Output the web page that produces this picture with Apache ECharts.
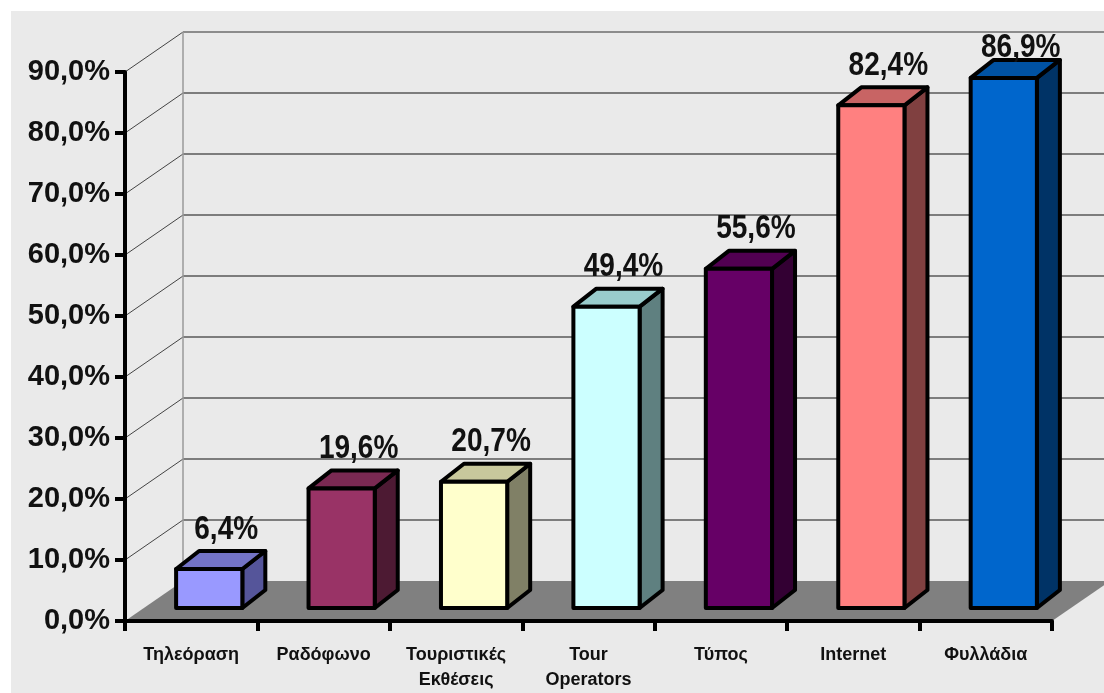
<!DOCTYPE html>
<html>
<head>
<meta charset="utf-8">
<script src="https://cdn.jsdelivr.net/npm/echarts@6/dist/echarts.min.js"></script>
<style>
  html, body { margin: 0; padding: 0; background: #ffffff; }
  #chart { width: 1104px; height: 693px; }
</style>
</head>
<body>
<div id="chart"></div>
<script>
// Media categories (x axis)
const categories = ['Τηλεόραση', 'Ραδόφωνο', 'Τουριστικές\nΕκθέσεις', 'Tour\nOperators', 'Τύπος', 'Internet', 'Φυλλάδια'];
// Share of respondents per medium, in percent
const shares = [6.4, 19.6, 20.7, 49.4, 55.6, 82.4, 86.9];
// Value axis ticks, in percent
const yTicks = [0, 10, 20, 30, 40, 50, 60, 70, 80, 90];

// Bar face colours: front, right side (shaded), top (half shaded)
const frontColors = ['#9999ff', '#993366', '#ffffcc', '#ccffff', '#660066', '#ff8080', '#0066cc'];
const sideColors  = ['#55559a', '#4d1a33', '#808066', '#5f8080', '#330033', '#804040', '#003366'];
const topColors   = ['#7373c6', '#7a2952', '#c8c89c', '#99cccc', '#520052', '#c86464', '#0052a3'];

const SANS = "'Liberation Sans', Arial, sans-serif";

// Depth of the 3-D box (floor / back wall), in pixels
const WALL_DX = 58, WALL_DY = -40;
// Where the bars stand inside that depth, and how deep each bar is
const BAR_OX = 18, BAR_OY = -13;
const BAR_DX = 23, BAR_DY = -18;

const fmtPct = v => v.toFixed(1).replace('.', ',') + '%';

const chart = echarts.init(document.getElementById('chart'), null, { renderer: 'canvas' });

function plotEdges(api) {
  const band = api.size([1, 0])[0];
  const first = api.coord([0, 0]);
  const last = api.coord([categories.length - 1, 0]);
  return { left: first[0] - band / 2, right: last[0] + band / 2, band: band };
}

const option = {
  backgroundColor: '#ffffff',
  animation: false,
  graphic: [{
    type: 'rect', left: 11, top: 11, z: -100,
    shape: { width: 1093, height: 682 },
    style: { fill: '#eaeaea' }
  }],
  grid: { left: 125, right: 52, top: 72, bottom: 65, containLabel: false },
  xAxis: {
    type: 'category',
    data: categories,
    boundaryGap: true,
    axisLine: { show: true, lineStyle: { color: '#000', width: 4 } },
    axisTick: { show: true, length: 10, lineStyle: { color: '#000', width: 4 } },
    axisLabel: {
      color: '#111', fontFamily: SANS, fontWeight: 'bold', fontSize: 18,
      margin: 22, lineHeight: 25, interval: 0
    },
    splitLine: { show: false },
    z: 10
  },
  yAxis: {
    type: 'value',
    min: 0, max: 90, interval: 10,
    axisLine: { show: true, lineStyle: { color: '#000', width: 4 } },
    axisTick: { show: true, length: 10, lineStyle: { color: '#000', width: 4 } },
    axisLabel: {
      color: '#111', fontFamily: SANS, fontWeight: 'bold', fontSize: 29,
      margin: 15, formatter: v => fmtPct(v)
    },
    splitLine: { show: false },
    z: 10
  },
  series: [
    {
      // Floor of the 3-D box
      type: 'custom',
      silent: true,
      clip: false,
      z: 1,
      data: [0],
      renderItem: function (params, api) {
        const e = plotEdges(api);
        const y0 = api.coord([0, 0])[1];
        return {
          type: 'polygon',
          shape: { points: [[e.left, y0], [e.left + WALL_DX, y0 + WALL_DY], [e.right + WALL_DX, y0 + WALL_DY], [e.right, y0]] },
          style: { fill: '#808080', stroke: null }
        };
      }
    },
    {
      // Gridlines: diagonal on the left side wall, horizontal on the back wall
      type: 'custom',
      silent: true,
      clip: false,
      z: 2,
      data: yTicks,
      encode: { y: 0 },
      renderItem: function (params, api) {
        const v = api.value(0);
        const e = plotEdges(api);
        const y = api.coord([0, v])[1];
        const bx = e.left + WALL_DX, by = y + WALL_DY;
        const isTop = v === yTicks[yTicks.length - 1];
        const children = [];
        if (v > 0) {
          children.push({
            type: 'line',
            shape: { x1: e.left, y1: y, x2: bx, y2: by },
            style: { stroke: '#444', lineWidth: 1 }
          });
          children.push({
            type: 'line',
            shape: { x1: bx, y1: by, x2: e.right + WALL_DX, y2: by },
            style: { stroke: isTop ? '#8c8c8c' : '#111', lineWidth: isTop ? 2 : 1 }
          });
        }
        if (isTop) {
          // back-left vertical edge of the wall
          const y0 = api.coord([0, 0])[1];
          children.push({
            type: 'line',
            shape: { x1: bx, y1: by, x2: bx, y2: y0 + WALL_DY },
            style: { stroke: '#9a9a9a', lineWidth: 1.5 }
          });
        }
        return { type: 'group', children: children };
      }
    },
    {
      // 3-D bars with value labels
      type: 'custom',
      clip: false,
      z: 5,
      data: shares.map((v, i) => [i, v]),
      encode: { x: 0, y: 1 },
      renderItem: function (params, api) {
        const i = api.value(0);
        const v = api.value(1);
        const base = api.coord([i, 0]);
        const top = api.coord([i, v]);
        const band = api.size([1, 0])[0];
        const w = band * 0.5;
        const x0 = base[0] - w / 2 + BAR_OX, x1 = x0 + w;
        const yb = base[1] + BAR_OY, yt = top[1] + BAR_OY;
        const stroke = { stroke: '#000', lineWidth: 4, lineJoin: 'round' };
        const ceil = api.coord([0, 90])[1] - 8;
        const labelY = Math.max(yt + BAR_DY - 5, ceil);
        return {
          type: 'group',
          children: [
            {
              type: 'polygon',
              shape: { points: [[x1, yb], [x1 + BAR_DX, yb + BAR_DY], [x1 + BAR_DX, yt + BAR_DY], [x1, yt]] },
              style: Object.assign({ fill: sideColors[i] }, stroke)
            },
            {
              type: 'polygon',
              shape: { points: [[x0, yt], [x1, yt], [x1 + BAR_DX, yt + BAR_DY], [x0 + BAR_DX, yt + BAR_DY]] },
              style: Object.assign({ fill: topColors[i] }, stroke)
            },
            {
              type: 'polygon',
              shape: { points: [[x0, yb], [x1, yb], [x1, yt], [x0, yt]] },
              style: Object.assign({ fill: frontColors[i] }, stroke)
            },
            {
              type: 'text',
              x: (x0 + x1) / 2 + 17,
              y: labelY,
              scaleX: 0.85,
              style: {
                text: fmtPct(v),
                x: 0,
                y: 0,
                align: 'center',
                verticalAlign: 'bottom',
                fill: '#111',
                font: 'bold 33px ' + SANS
              }
            }
          ]
        };
      }
    }
  ]
};

chart.setOption(option);
</script>
</body>
</html>
